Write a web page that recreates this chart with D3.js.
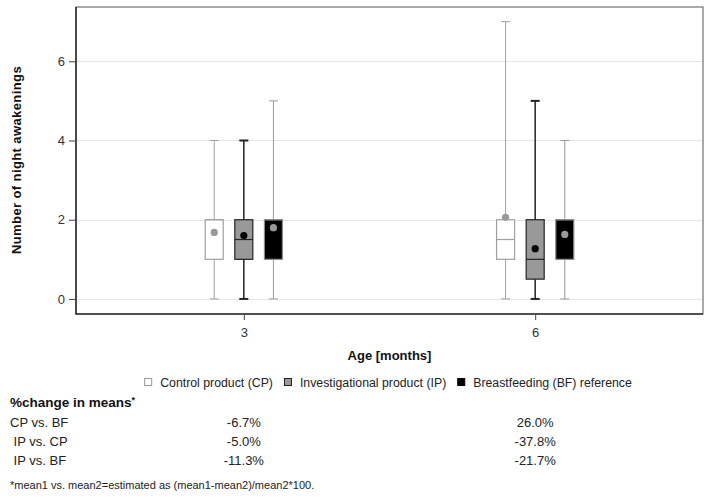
<!DOCTYPE html>
<html>
<head>
<meta charset="utf-8">
<script src="https://cdn.jsdelivr.net/npm/d3@7"></script>
<style>
  html, body { margin: 0; padding: 0; background: #fff; }
  svg { display: block; font-family: "Liberation Sans", Arial, sans-serif; }
</style>
</head>
<body>
<svg id="chart" width="708" height="499"></svg>
<script>
// ---- Data ----
const ages = ["3", "6"];
const groups = ["CP", "IP", "BF"];
const groupLabels = ["Control product (CP)", "Investigational product (IP)", "Breastfeeding (BF) reference"];
// [group][age]
const whiskerMin = [[0, 0], [0, 0], [0, 0]];
const quart1 = [[1, 1], [1, 0.5], [1, 1]];
const medians = [[2, 1.5], [1.5, 1], [2, 2]];
const quart3 = [[2, 2], [2, 2], [2, 2]];
const whiskerMax = [[4, 7], [4, 5], [5, 4]];
const means = [[1.68, 2.06], [1.6, 1.27], [1.8, 1.63]];
const yTicks = [0, 2, 4, 6];
const tableTitle = "%change in means";
const tableRows = ["CP vs. BF", " IP vs. CP", " IP vs. BF"];
const tableAge3 = ["-6.7%", "-5.0%", "-11.3%"];
const tableAge6 = ["26.0%", "-37.8%", "-21.7%"];
const footnote = "*mean1 vs. mean2=estimated as (mean1-mean2)/mean2*100.";

// ---- Styles ----
const boxFill = ["#ffffff", "#999999", "#000000"];
const boxStroke = ["#a0a0a0", "#222222", "#8a8a8a"];
const whiskerColor = ["#a0a0a0", "#222222", "#999999"];
const meanColor = ["#999999", "#000000", "#999999"];

const svg = d3.select("#chart");
const plot = { left: 76, right: 703, top: 7, bottom: 314 };

const x = d3.scalePoint().domain(ages).range([plot.left, plot.right]).padding(0.576);
const xOff = d3.scalePoint().domain(groups).range([-29.6, 29.6]);
const y = d3.scaleLinear().domain([-0.38, 7.37]).range([plot.bottom, plot.top]);

// gridlines
svg.append("g").selectAll("line").data(yTicks).join("line")
  .attr("x1", plot.left + 1).attr("x2", plot.right - 1)
  .attr("y1", d => Math.round(y(d)) + 0.5).attr("y2", d => Math.round(y(d)) + 0.5)
  .attr("stroke", "#e6e6e6").attr("stroke-width", 1);

// boxes
const boxW = 18, capW = 9;
const items = [];
groups.forEach((g, gi) => ages.forEach((a, ai) => items.push({ gi, ai, g, a })));
const bx = svg.append("g");
items.forEach(d => {
  const cx = x(d.a) + xOff(d.g);
  const gg = bx.append("g");
  const lo = whiskerMin[d.gi][d.ai], hi = whiskerMax[d.gi][d.ai];
  const q1 = quart1[d.gi][d.ai], q3 = quart3[d.gi][d.ai], md = medians[d.gi][d.ai];
  const sw = d.gi === 1 ? 1.5 : 1;
  gg.append("line").attr("x1", cx).attr("x2", cx).attr("y1", y(hi)).attr("y2", y(q3))
    .attr("stroke", whiskerColor[d.gi]).attr("stroke-width", sw);
  gg.append("line").attr("x1", cx).attr("x2", cx).attr("y1", y(q1)).attr("y2", y(lo))
    .attr("stroke", whiskerColor[d.gi]).attr("stroke-width", sw);
  [lo, hi].forEach(v => gg.append("line")
    .attr("x1", cx - capW / 2).attr("x2", cx + capW / 2).attr("y1", y(v)).attr("y2", y(v))
    .attr("stroke", whiskerColor[d.gi]).attr("stroke-width", d.gi === 1 ? 2 : 1));
  gg.append("rect").attr("x", cx - boxW / 2).attr("width", boxW)
    .attr("y", y(q3)).attr("height", y(q1) - y(q3))
    .attr("fill", boxFill[d.gi]).attr("stroke", boxStroke[d.gi]).attr("stroke-width", 1.2);
  gg.append("line").attr("x1", cx - boxW / 2).attr("x2", cx + boxW / 2)
    .attr("y1", y(md)).attr("y2", y(md))
    .attr("stroke", boxStroke[d.gi]).attr("stroke-width", 1.2);
  gg.append("circle").attr("cx", cx).attr("cy", y(means[d.gi][d.ai])).attr("r", 3.6)
    .attr("fill", meanColor[d.gi]);
});

// frame
svg.append("rect").attr("x", plot.left).attr("y", plot.top)
  .attr("width", plot.right - plot.left).attr("height", plot.bottom - plot.top)
  .attr("fill", "none").attr("stroke", "#555").attr("stroke-width", 1);
svg.append("path")
  .attr("d", `M${plot.left},${plot.top}V${plot.bottom}H${plot.right}`)
  .attr("fill", "none").attr("stroke", "#333").attr("stroke-width", 1.6);

// axes
const yAxis = svg.append("g").attr("transform", `translate(${plot.left},0)`)
  .call(d3.axisLeft(y).tickValues(yTicks).tickSize(7).tickPadding(4).tickFormat(d3.format("d")));
yAxis.select(".domain").remove();
yAxis.selectAll("line").attr("stroke", "#444");
yAxis.selectAll("text").attr("font-size", 13).attr("fill", "#333")
  .attr("font-family", "Liberation Sans, Arial, sans-serif");

const xAxis = svg.append("g").attr("transform", `translate(0,${plot.bottom})`)
  .call(d3.axisBottom(x).tickSize(6).tickPadding(8));
xAxis.select(".domain").remove();
xAxis.selectAll("line").attr("stroke", "#444");
xAxis.selectAll("text").attr("font-size", 13).attr("fill", "#333")
  .attr("font-family", "Liberation Sans, Arial, sans-serif");

// axis titles
svg.append("text").attr("transform", "translate(21,160) rotate(-90)")
  .attr("text-anchor", "middle").attr("font-size", 13).attr("font-weight", "bold")
  .attr("letter-spacing", 0.4).attr("fill", "#111").text("Number of night awakenings");
svg.append("text").attr("x", (plot.left + plot.right) / 2).attr("y", 360)
  .attr("text-anchor", "middle").attr("font-size", 13).attr("font-weight", "bold")
  .attr("fill", "#111").text("Age [months]");

// legend
const legend = svg.append("g");
let lx = 0;
groups.forEach((g, gi) => {
  const it = legend.append("g").attr("transform", `translate(${lx},0)`);
  it.append("rect").attr("x", 0.5).attr("y", 378.5).attr("width", 7).attr("height", 7)
    .attr("fill", boxFill[gi]).attr("stroke", gi === 0 ? "#999" : (gi === 1 ? "#222" : "#000"));
  const t = it.append("text").attr("x", 16).attr("y", 387).attr("font-size", 12.3)
    .attr("fill", "#222").text(groupLabels[gi]);
  lx += 16 + t.node().getComputedTextLength() + 11;
});
const legW = lx - 11;
legend.attr("transform", `translate(${388 - legW / 2},0)`);

// table
const title = svg.append("text").attr("x", 10).attr("y", 407).attr("font-size", 13.5)
  .attr("font-weight", "bold").attr("fill", "#111").text(tableTitle);
title.append("tspan").attr("font-size", 9).attr("dy", -4).text("*");
const rowY = [427, 446, 465];
tableRows.forEach((r, i) => {
  svg.append("text").attr("x", 10).attr("y", rowY[i]).attr("font-size", 13)
    .attr("fill", "#222").attr("xml:space", "preserve").style("white-space", "pre").text(r);
  svg.append("text").attr("x", x(ages[0])).attr("y", rowY[i]).attr("text-anchor", "middle")
    .attr("font-size", 13).attr("fill", "#222").text(tableAge3[i]);
  svg.append("text").attr("x", x(ages[1])).attr("y", rowY[i]).attr("text-anchor", "middle")
    .attr("font-size", 13).attr("fill", "#222").text(tableAge6[i]);
});
svg.append("text").attr("x", 10).attr("y", 489).attr("font-size", 11)
  .attr("fill", "#222").text(footnote);
</script>
</body>
</html>
